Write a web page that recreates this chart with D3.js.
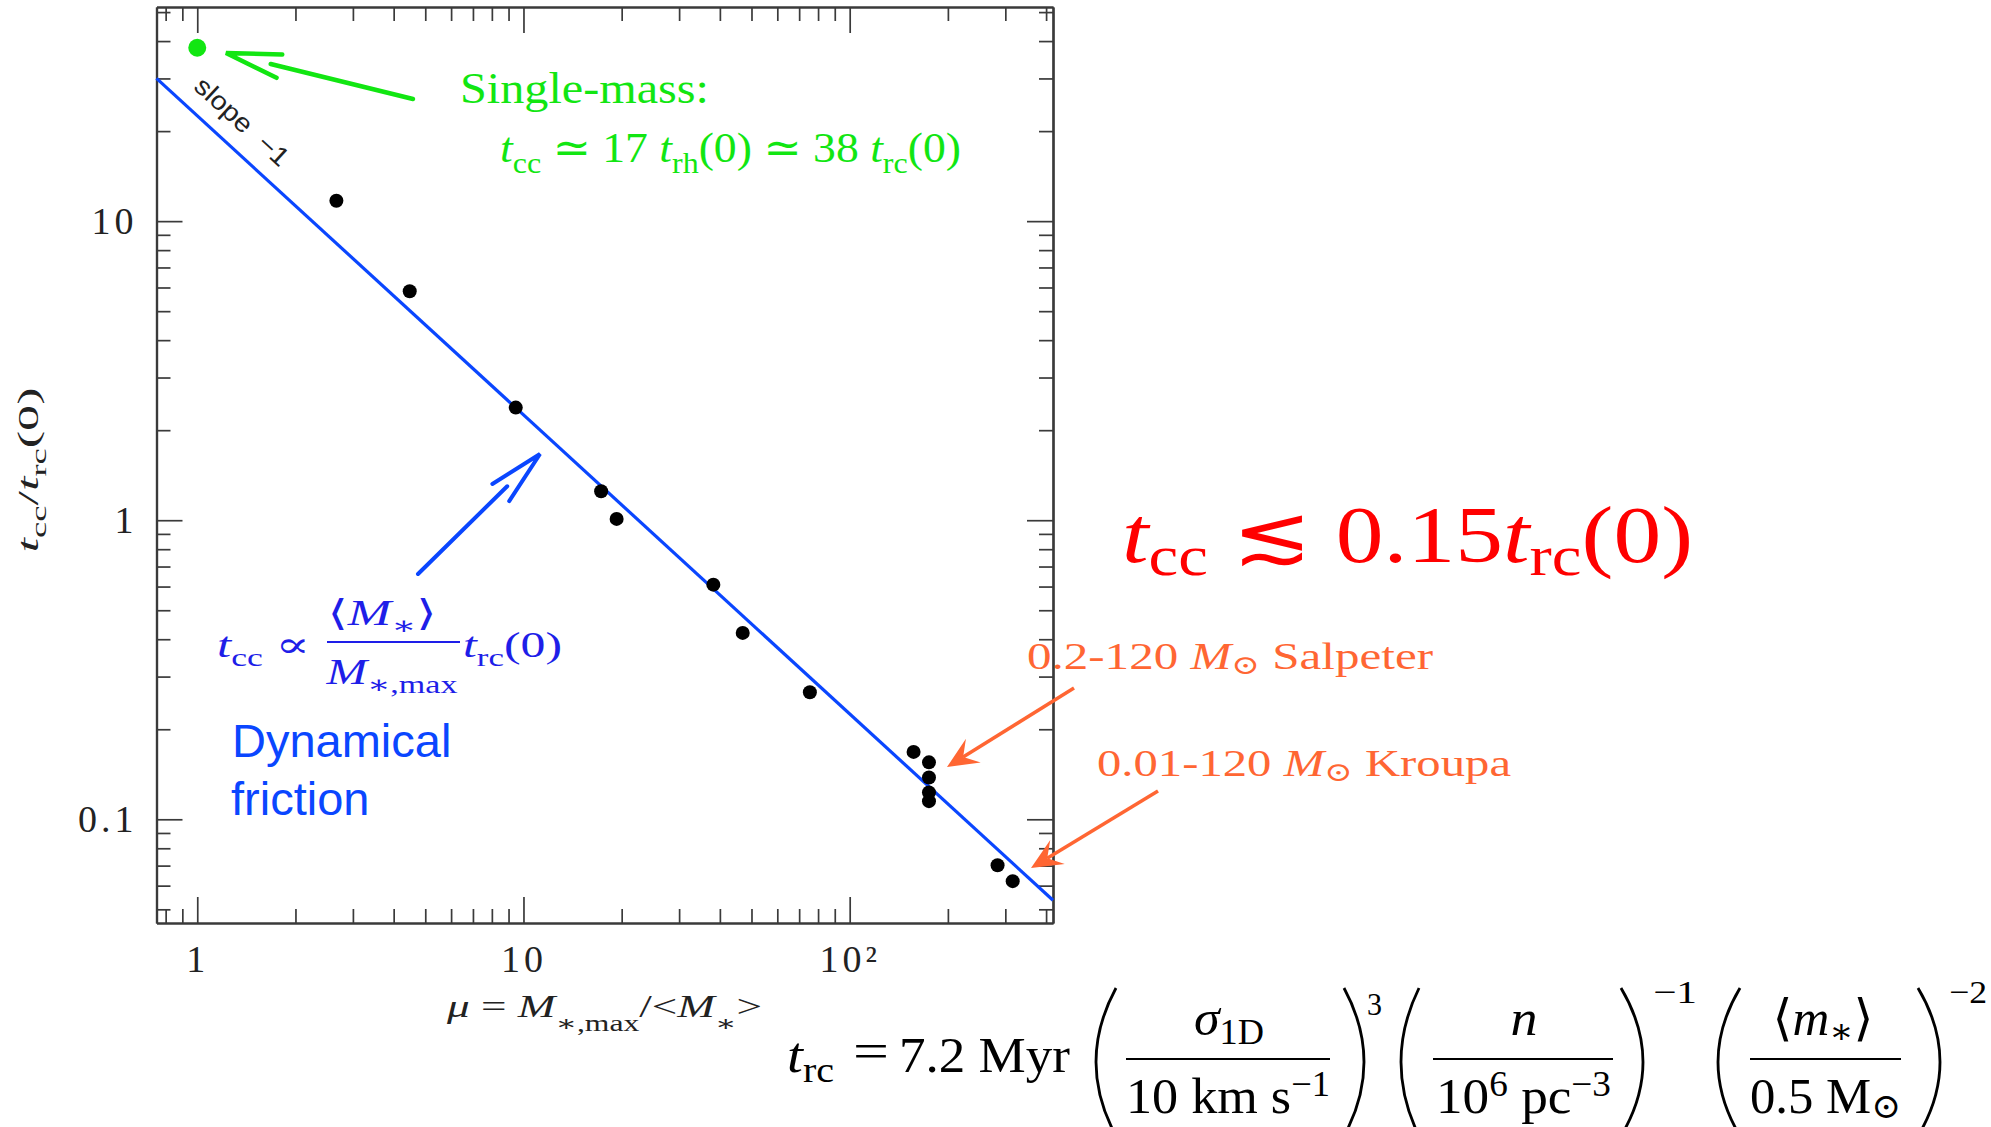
<!DOCTYPE html>
<html>
<head>
<meta charset="utf-8">
<script src="https://cdn.jsdelivr.net/npm/d3@7"></script>
<style>
  body { margin: 0; background: #fff; }
  svg { display: block; }
  text { white-space: pre; }
</style>
</head>
<body>
<div id="chart"></div>
<script>
// values
var muValues = [2.67, 4.48, 9.47, 17.3, 19.3, 38.2, 47.0, 75.5, 157, 175, 175, 175, 175, 284, 316]
var tccValues = [11.7, 5.83, 2.38, 1.25, 1.01, 0.609, 0.42, 0.266, 0.168, 0.155, 0.138, 0.123, 0.115, 0.0702, 0.0621]
var singleMu = [1]
var singleTcc = [38]
var slopeMu = [0.75, 420]
var slopeTcc = [30, 0.0536]
var xMajor = [1, 10, 100]
var xTickLabels = ["1", "10", "10²"]
var yMajor = [0.1, 1, 10]
var yTickLabels = ["0.1", "1", "10"]

var W = 1991, H = 1127
var frame = {left: 156.5, right: 1053, top: 7, bottom: 923}
var serif = "'Liberation Serif', 'DejaVu Serif', 'DejaVu Sans', serif"
var sans = "'Liberation Sans', Arial, sans-serif"

var green = "#12e612", lineBlue = "#0a46ff", mathBlue = "#1e1ee8", orange = "#ff6633", red = "#ff0000"

var svg = d3.select("#chart").append("svg")
    .attr("width", W)
    .attr("height", H)
svg.append("rect").attr("width", W).attr("height", H).attr("fill", "#fff")

var x = d3.scaleLog().domain([0.75, 420]).range([frame.left, frame.right])
var y = d3.scaleLog().domain([0.045, 52]).range([frame.bottom, frame.top])

function isDecade(v) { var l = Math.log10(v); return Math.abs(l - Math.round(l)) < 1e-6 }
var xMinor = x.ticks().filter(function (v) { return !isDecade(v) })
var yMinor = y.ticks().filter(function (v) { return !isDecade(v) })

// axes, ticks pointing inwards on all four sides
function styleAxis(g) {
    g.attr("font-family", serif).attr("font-size", 38)
    g.selectAll(".domain").attr("stroke", "#3a3a3a").attr("stroke-width", 2.2)
    g.selectAll(".tick line").attr("stroke", "#3a3a3a").attr("stroke-width", 1.7)
    g.selectAll(".tick text").attr("fill", "#222").attr("letter-spacing", 4)
}
function addAxis(make, tr, major, minor, labels, pad) {
    var g1 = svg.append("g").attr("transform", tr)
        .call(make().tickValues(minor).tickSize(-14).tickSizeOuter(0).tickFormat(""))
    styleAxis(g1)
    var g2 = svg.append("g").attr("transform", tr)
        .call(make().tickValues(major).tickSize(-26).tickSizeOuter(0).tickPadding(pad)
            .tickFormat(function (d, i) { return labels ? labels[i] : "" }))
    styleAxis(g2)
}
addAxis(function () { return d3.axisBottom(x) }, "translate(0," + frame.bottom + ")", xMajor, xMinor, xTickLabels, 22)
addAxis(function () { return d3.axisTop(x) }, "translate(0," + frame.top + ")", xMajor, xMinor, null, 5)
addAxis(function () { return d3.axisLeft(y) }, "translate(" + frame.left + ",0)", yMajor, yMinor, yTickLabels, 19)
addAxis(function () { return d3.axisRight(y) }, "translate(" + frame.right + ",0)", yMajor, yMinor, null, 5)

// slope -1 reference line
var slopeData = slopeMu.map(function (m, i) { return {x: m, y: slopeTcc[i]} })
svg.append("path")
    .datum(slopeData)
    .attr("d", d3.line().x(function (d) { return x(d.x) }).y(function (d) { return y(d.y) }))
    .attr("fill", "none")
    .attr("stroke", lineBlue)
    .attr("stroke-width", 3.2)

svg.selectAll("circle.run")
    .data(muValues)
    .enter().append("circle")
    .attr("class", "run")
    .attr("cx", function (d) { return x(d) })
    .attr("cy", function (d, i) { return y(tccValues[i]) })
    .attr("r", 7)
    .attr("fill", "#000")

svg.selectAll("circle.single")
    .data(singleMu)
    .enter().append("circle")
    .attr("class", "single")
    .attr("cx", function (d) { return x(d) })
    .attr("cy", function (d, i) { return y(singleTcc[i]) })
    .attr("r", 9)
    .attr("fill", green)

// little helper for TeX-like text: parts are {t, it, sub, sup}
function mathText(parent, px, py, size, parts, opt) {
    opt = opt || {}
    var t = parent.append("text")
        .attr("x", px).attr("y", py)
        .attr("font-size", size)
        .attr("font-family", opt.family || serif)
        .attr("fill", opt.fill || "#000")
        .attr("text-anchor", opt.anchor || "start")
    var shift = 0
    parts.forEach(function (p) {
        var target = p.sub ? size * (opt.subDrop || 0.25) : p.sup ? -size * (opt.supRise || 0.42) : 0
        var s = t.append("tspan").text(p.t)
        if (target !== shift) s.attr("dy", target - shift)
        shift = target
        if (p.sub || p.sup) s.attr("font-size", size * 0.7)
        if (p.it) s.attr("font-style", "italic")
    })
    if (opt.width) t.attr("textLength", opt.width).attr("lengthAdjust", "spacingAndGlyphs")
    if (opt.transform) t.attr("transform", opt.transform)
    return t
}

// axis titles
mathText(svg, 447, 1017, 32, [
    {t: "μ", it: 1}, {t: " = "}, {t: "M", it: 1}, {t: "∗,max", sub: 1}, {t: "/<"},
    {t: "M", it: 1}, {t: "∗", sub: 1}, {t: ">"}
], {width: 315, subDrop: 0.45, fill: "#222"})

mathText(svg, 0, 0, 30, [
    {t: "t", it: 1}, {t: "cc", sub: 1}, {t: "/"}, {t: "t", it: 1}, {t: "rc", sub: 1}, {t: "(0)"}
], {anchor: "middle", width: 165, fill: "#222", transform: "translate(38,470) rotate(-90)"})

// "slope -1" label along the line
svg.append("text")
    .attr("transform", "translate(236,128) rotate(42.5)")
    .attr("text-anchor", "middle")
    .attr("font-family", sans)
    .attr("font-size", 26)
    .attr("fill", "#222")
    .attr("textLength", 118)
    .attr("lengthAdjust", "spacingAndGlyphs")
    .text("slope  −1")

// arrows
function openArrow(tail, tip, color, w) {
    var dx = tip[0] - tail[0], dy = tip[1] - tail[1], L = Math.hypot(dx, dy)
    var ux = dx / L, uy = dy / L, px = -uy, py = ux
    var g = svg.append("g").attr("stroke", color).attr("stroke-width", w)
        .attr("stroke-linecap", "round").attr("fill", "none")
    g.append("line").attr("x1", tail[0]).attr("y1", tail[1])
        .attr("x2", tip[0] - 46 * ux).attr("y2", tip[1] - 46 * uy)
    g.append("path").attr("d", "M" + (tip[0] - 55 * ux + 12 * px) + "," + (tip[1] - 55 * uy + 12 * py) +
        "L" + tip[0] + "," + tip[1] +
        "L" + (tip[0] - 55 * ux - 12 * px) + "," + (tip[1] - 55 * uy - 12 * py))
}
function filledArrow(tail, tip, color, w) {
    var dx = tip[0] - tail[0], dy = tip[1] - tail[1], L = Math.hypot(dx, dy)
    var ux = dx / L, uy = dy / L, px = -uy, py = ux
    svg.append("line").attr("x1", tail[0]).attr("y1", tail[1])
        .attr("x2", tip[0] - 19 * ux).attr("y2", tip[1] - 19 * uy)
        .attr("stroke", color).attr("stroke-width", w)
    svg.append("path").attr("fill", color).attr("d",
        "M" + tip[0] + "," + tip[1] +
        "L" + (tip[0] - 31 * ux + 14 * px) + "," + (tip[1] - 31 * uy + 14 * py) +
        "L" + (tip[0] - 19 * ux) + "," + (tip[1] - 19 * uy) +
        "L" + (tip[0] - 31 * ux - 14 * px) + "," + (tip[1] - 31 * uy - 14 * py) + "Z")
}
openArrow([413, 99], [226, 53], green, 4.5)
openArrow([418, 574], [540, 454], lineBlue, 4)
filledArrow([1074, 688], [947, 767], orange, 3.5)
filledArrow([1158, 791], [1031, 868], orange, 3.5)

// single-mass note
mathText(svg, 460, 103, 44, [{t: "Single-mass:"}], {fill: green, width: 249})
mathText(svg, 500, 162, 42, [
    {t: "t", it: 1}, {t: "cc", sub: 1}, {t: " ≃ 17 "}, {t: "t", it: 1}, {t: "rh", sub: 1},
    {t: "(0) ≃ 38 "}, {t: "t", it: 1}, {t: "rc", sub: 1}, {t: "(0)"}
], {fill: green, width: 461})

// dynamical friction note
mathText(svg, 217, 657, 36, [{t: "t", it: 1}, {t: "cc", sub: 1}, {t: " ∝"}], {fill: mathBlue, width: 93})
mathText(svg, 382, 625, 36, [{t: "⟨"}, {t: "M", it: 1}, {t: "∗", sub: 1}, {t: "⟩"}],
    {fill: mathBlue, anchor: "middle", width: 109})
svg.append("line").attr("x1", 327).attr("x2", 460).attr("y1", 642).attr("y2", 642)
    .attr("stroke", mathBlue).attr("stroke-width", 1.8)
mathText(svg, 392, 684, 36, [{t: "M", it: 1}, {t: "∗,max", sub: 1}],
    {fill: mathBlue, anchor: "middle", width: 131})
mathText(svg, 463, 657, 36, [{t: "t", it: 1}, {t: "rc", sub: 1}, {t: "(0)"}], {fill: mathBlue, width: 99})

svg.append("text").attr("x", 232).attr("y", 757).attr("font-family", sans).attr("font-size", 47)
    .attr("fill", lineBlue).text("Dynamical")
svg.append("text").attr("x", 231).attr("y", 815).attr("font-family", sans).attr("font-size", 47)
    .attr("fill", lineBlue).text("friction")

// big red result
mathText(svg, 1122, 562, 80, [
    {t: "t", it: 1}, {t: "cc", sub: 1}, {t: " ≲ 0.15"}, {t: "t", it: 1}, {t: "rc", sub: 1}, {t: "(0)"}
], {fill: red, width: 571, subDrop: 0.16})

// IMF labels
mathText(svg, 1027, 669, 38, [{t: "0.2-120 "}, {t: "M", it: 1}, {t: "⊙", sub: 1}, {t: " Salpeter"}],
    {fill: orange, width: 406, subDrop: 0.12})
mathText(svg, 1097, 776, 38, [{t: "0.01-120 "}, {t: "M", it: 1}, {t: "⊙", sub: 1}, {t: " Kroupa"}],
    {fill: orange, width: 414, subDrop: 0.12})

// relaxation time formula at the bottom (tall, narrow type like the original)
var f = svg.append("g")
var FS = 50
mathText(f, 787, 1072, FS, [{t: "t", it: 1}, {t: "rc", sub: 1}], {width: 47, subDrop: 0.2})
mathText(f, 853, 1068, FS, [{t: "="}], {width: 36})
mathText(f, 899, 1072, FS, [{t: "7.2 Myr"}], {width: 171})

function paren(outer, inner) {
    f.append("path")
        .attr("d", "M" + inner + ",988Q" + (2 * outer - inner) + ",1062 " + inner + ",1136")
        .attr("fill", "none").attr("stroke", "#000").attr("stroke-width", 2.8)
}
function bar(x1, x2) {
    f.append("line").attr("x1", x1).attr("x2", x2).attr("y1", 1059).attr("y2", 1059)
        .attr("stroke", "#000").attr("stroke-width", 2)
}
paren(1096, 1116); paren(1364, 1344)
mathText(f, 1229, 1035, FS, [{t: "σ", it: 1}, {t: "1D", sub: 1}], {anchor: "middle", width: 70, subDrop: 0.18})
bar(1126, 1330)
mathText(f, 1126, 1113, FS, [{t: "10 km s"}, {t: "−1", sup: 1}], {width: 204, supRise: 0.35})
mathText(f, 1367, 1015, 32, [{t: "3"}], {width: 15})

paren(1401, 1419); paren(1643, 1621)
mathText(f, 1524, 1035, FS, [{t: "n", it: 1}], {anchor: "middle", width: 27})
bar(1433, 1613)
mathText(f, 1436, 1113, FS, [{t: "10"}, {t: "6", sup: 1}, {t: " pc"}, {t: "−3", sup: 1}], {width: 175, supRise: 0.35})
mathText(f, 1653, 1003, 32, [{t: "−1"}], {width: 44})

paren(1718, 1740); paren(1940, 1918)
mathText(f, 1823, 1035, FS, [{t: "⟨"}, {t: "m", it: 1}, {t: "∗", sub: 1}, {t: "⟩"}], {anchor: "middle", width: 101, subDrop: 0.15})
bar(1750, 1901)
mathText(f, 1750, 1113, FS, [{t: "0.5 M"}, {t: "⊙", sub: 1}], {width: 151, subDrop: 0.1})
mathText(f, 1949, 1003, 32, [{t: "−2"}], {width: 38})
</script>
</body>
</html>
